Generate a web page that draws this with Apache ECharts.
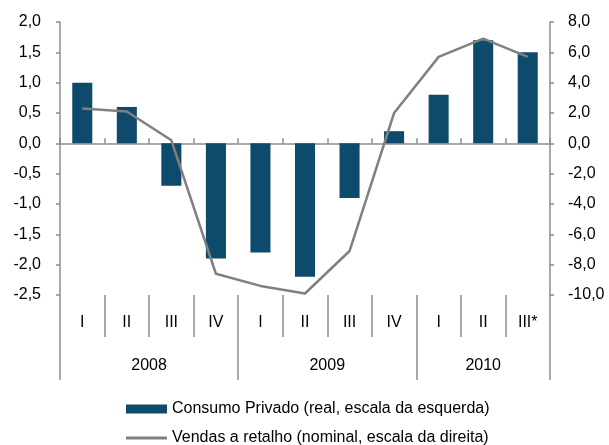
<!DOCTYPE html>
<html>
<head>
<meta charset="utf-8">
<script src="https://cdn.jsdelivr.net/npm/echarts@6/dist/echarts.min.js"></script>
<style>
  html, body { margin: 0; padding: 0; background: #fff; }
  #main { width: 609px; height: 445px; }
</style>
</head>
<body>
<div id="main"></div>
<script>
// 数据
var quarters = ['I', 'II', 'III', 'IV', 'I', 'II', 'III', 'IV', 'I', 'II', 'III*'];
var years = ['2008', '2009', '2010'];
var yearSize = [4, 4, 3];
var consumo = [1.0, 0.6, -0.7, -1.9, -1.8, -2.2, -0.9, 0.2, 0.8, 1.7, 1.5];
var vendas = [2.3, 2.1, 0.2, -8.6, -9.4, -9.9, -7.1, 2.0, 5.7, 6.9, 5.7];
var leftTicks = [-2.5, 2.0, 0.5];
var rightTicks = [-10, 8, 2];
var barName = 'Consumo Privado (real, escala da esquerda)';
var lineName = 'Vendas a retalho (nominal, escala da direita)';

(function() {
    var myChart = echarts.init(document.getElementById('main'));
    var font = 'Liberation Sans, Arial, sans-serif';
    var grey = '#8c8c8c';
    var fs = 16;

    // 年份轴：每个季度两个半格
    var yearSlots = [];
    var yearBounds = [0];
    var pos = 0;
    for (var i = 0; i < yearSize.length; i++) {
        pos += yearSize[i] * 2;
        yearBounds.push(pos);
    }
    for (var k = 0; k <= pos; k++) yearSlots.push('');
    for (var j = 0; j < years.length; j++) {
        yearSlots[Math.round((yearBounds[j] + yearBounds[j + 1]) / 2)] = years[j];
    }

    function comma(v) {
        return v.toFixed(1).replace('.', ',');
    }

    var option = {
        animation: false,
        textStyle: { fontFamily: font },
        grid: { left: 60, right: 59, top: 22, bottom: 150 },
        legend: [
            {
                left: 121,
                top: 396,
                itemWidth: 41,
                itemHeight: 9,
                textStyle: { fontSize: fs, color: '#000', fontFamily: font },
                data: [{ name: barName, icon: 'rect' }]
            },
            {
                left: 121,
                top: 425,
                itemWidth: 41,
                itemHeight: 3,
                textStyle: { fontSize: fs, color: '#000', fontFamily: font },
                data: [{ name: lineName, icon: 'rect', itemStyle: { color: '#808080' } }]
            }
        ],
        xAxis: [
            {
                type: 'category',
                data: quarters,
                axisLine: { onZero: true, lineStyle: { color: grey, width: 1.5 } },
                axisTick: { show: true, inside: true, length: 5, interval: 0, lineStyle: { color: grey, width: 1.5 } },
                axisLabel: { show: false }
            },
            {
                type: 'category',
                data: quarters,
                position: 'bottom',
                axisLine: { show: false, onZero: false },
                axisTick: { show: true, length: 42, interval: 0, lineStyle: { color: grey, width: 1.5 } },
                axisLabel: { interval: 0, margin: 20, fontSize: fs, color: '#000' }
            },
            {
                type: 'category',
                data: yearSlots,
                boundaryGap: false,
                position: 'bottom',
                axisLine: { show: false, onZero: false },
                axisTick: {
                    show: true,
                    length: 85,
                    interval: function(idx) { return yearBounds.indexOf(idx) >= 0; },
                    lineStyle: { color: grey, width: 1.5 }
                },
                axisLabel: {
                    interval: function(idx, val) { return val !== ''; },
                    margin: 63,
                    fontSize: fs,
                    color: '#000'
                }
            }
        ],
        yAxis: [
            {
                type: 'value',
                min: leftTicks[0],
                max: leftTicks[1],
                interval: leftTicks[2],
                position: 'left',
                axisLine: { show: true, lineStyle: { color: grey, width: 1.5 } },
                axisTick: { show: true, length: 4, lineStyle: { color: grey, width: 1.5 } },
                splitLine: { show: false },
                axisLabel: { fontSize: fs, color: '#000', margin: 19, formatter: comma }
            },
            {
                type: 'value',
                min: rightTicks[0],
                max: rightTicks[1],
                interval: rightTicks[2],
                position: 'right',
                axisLine: { show: true, lineStyle: { color: grey, width: 1.5 } },
                axisTick: { show: true, length: 4, lineStyle: { color: grey, width: 1.5 } },
                splitLine: { show: false },
                axisLabel: { fontSize: fs, color: '#000', margin: 18, formatter: comma }
            }
        ],
        series: [
            {
                name: barName,
                type: 'bar',
                xAxisIndex: 0,
                yAxisIndex: 0,
                barWidth: '45%',
                data: consumo,
                itemStyle: { color: '#0d4a6b' }
            },
            {
                name: lineName,
                type: 'line',
                xAxisIndex: 0,
                yAxisIndex: 1,
                symbol: 'none',
                data: vendas,
                lineStyle: { color: '#808080', width: 2.5 },
                itemStyle: { color: '#808080' }
            }
        ]
    };
    myChart.setOption(option);
})();
</script>
</body>
</html>
